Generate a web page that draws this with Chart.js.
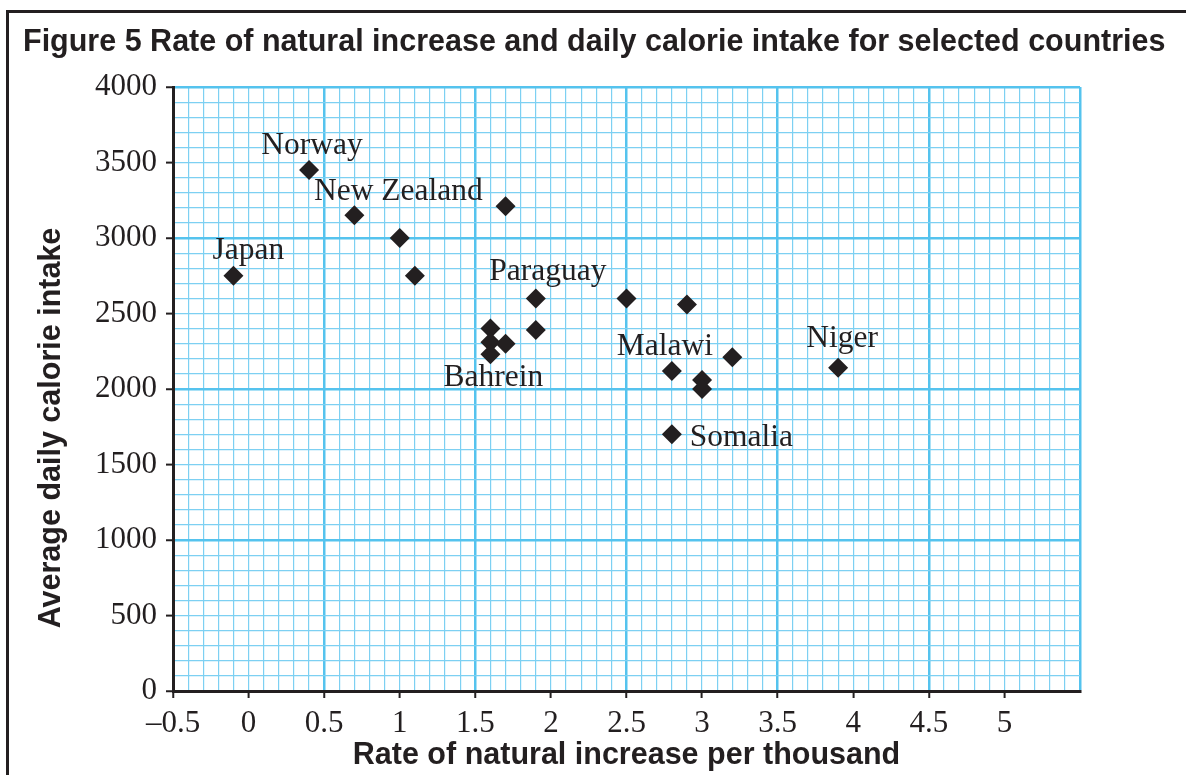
<!DOCTYPE html>
<html>
<head>
<meta charset="utf-8">
<script src="https://cdn.jsdelivr.net/npm/chart.js@4.4.1/dist/chart.umd.min.js"></script>
<style>
    html, body { margin: 0; padding: 0; background: #ffffff; }
    #wrap { width: 1186px; height: 775px; }
</style>
</head>
<body>
<div id="wrap"><canvas id="calorieChart"></canvas></div>
<script>
// values
const rateOfIncrease = [-0.1, 0.4, 0.7, 1.0, 1.1, 1.6, 1.6, 1.6, 1.7, 1.7, 1.9, 1.9, 2.5, 2.9, 2.8, 3.0, 3.0, 3.2, 2.8, 3.9];
const calorieIntake = [2750, 3450, 3150, 3000, 2750, 2400, 2310, 2230, 2300, 3210, 2600, 2390, 2600, 2560, 2120, 2060, 2000, 2210, 1700, 2140];

// country names and the point each one sits next to
const countryNames = ['Norway', 'New Zealand', 'Japan', 'Paraguay', 'Bahrein', 'Malawi', 'Somalia', 'Niger'];
const countryRate = [0.4, 0.7, -0.1, 1.9, 1.6, 2.8, 2.8, 3.9];
const countryCalories = [3450, 3150, 2750, 2600, 2230, 2120, 1700, 2140];

const xMin = -0.5, xMax = 5.5, xStep = 0.1;
const yMin = 0, yMax = 4000, yStep = 100;

const ink = '#231f20';
const gridThin = '#7dd0f2';
const gridThick = '#55c3ee';
const serif = '"Liberation Serif", "Times New Roman", serif';
const sans = '"Liberation Sans", Arial, sans-serif';

function isHalf(v) { return Math.abs(v * 2 - Math.round(v * 2)) < 1e-6; }
function xMajor(v) { return Math.round((v - xMin) * 10) % 10 === 0; }
function yMajor(v) { return Math.round(v) % 1000 === 0; }

// label offsets in pixels from their point
const labelPlace = {
    'Norway':      { dx: 3,  dy: -16, align: 'center' },
    'New Zealand': { dx: 44, dy: -15, align: 'center' },
    'Japan':       { dx: 15, dy: -17, align: 'center' },
    'Paraguay':    { dx: 12, dy: -18, align: 'center' },
    'Bahrein':     { dx: 3,  dy: 32,  align: 'center' },
    'Malawi':      { dx: -7, dy: -16, align: 'center' },
    'Somalia':     { dx: 18, dy: 12,  align: 'left' },
    'Niger':       { dx: 4,  dy: -21, align: 'center' }
};

const figureText = {
    id: 'figureText',
    beforeDraw(chart) {
        const ctx = chart.ctx;
        ctx.save();
        // frame round the figure
        ctx.strokeStyle = ink;
        ctx.lineWidth = 3;
        ctx.beginPath();
        ctx.moveTo(7.5, 775);
        ctx.lineTo(7.5, 11.5);
        ctx.lineTo(1186, 11.5);
        ctx.stroke();
        // title
        ctx.fillStyle = ink;
        ctx.font = 'bold 30.5px ' + sans;
        ctx.textAlign = 'left';
        ctx.textBaseline = 'alphabetic';
        ctx.fillText('Figure 5 Rate of natural increase and daily calorie intake for selected countries', 23, 51);
        // y axis title
        ctx.translate(52, 428);
        ctx.rotate(-Math.PI / 2);
        ctx.textAlign = 'center';
        ctx.textBaseline = 'middle';
        ctx.font = 'bold 30.5px ' + sans;
        ctx.fillText('Average daily calorie intake', 0, 0);
        ctx.restore();
    },
    afterDatasetsDraw(chart) {
        const ctx = chart.ctx;
        const xs = chart.scales.x, ys = chart.scales.y;
        ctx.save();
        ctx.fillStyle = ink;
        ctx.font = '31.5px ' + serif;
        ctx.textBaseline = 'alphabetic';
        countryNames.forEach((name, i) => {
            const p = labelPlace[name];
            ctx.textAlign = p.align;
            ctx.fillText(name, xs.getPixelForValue(countryRate[i]) + p.dx, ys.getPixelForValue(countryCalories[i]) + p.dy);
        });
        ctx.restore();
    }
};

const ctx = document.getElementById('calorieChart').getContext('2d');
const calorieChart = new Chart(ctx, {
    type: 'scatter',
    data: {
        datasets: [{
            label: 'Countries',
            data: rateOfIncrease.map((r, i) => ({ x: r, y: calorieIntake[i] })),
            pointStyle: 'rectRot',
            pointRadius: 10,
            pointHoverRadius: 10,
            backgroundColor: ink,
            borderColor: ink,
            borderWidth: 0
        }]
    },
    options: {
        responsive: true,
        maintainAspectRatio: false,
        animation: false,
        events: [],
        layout: { padding: { top: 87, right: 106, left: 0, bottom: 0 } },
        plugins: {
            legend: { display: false },
            title: { display: false },
            tooltip: { enabled: false }
        },
        scales: {
            x: {
                type: 'linear',
                min: xMin,
                max: xMax,
                afterFit: scale => { scale.height = 84; },
                border: { color: ink, width: 3 },
                grid: {
                    color: c => xMajor(c.tick.value) ? gridThick : gridThin,
                    lineWidth: c => xMajor(c.tick.value) ? 2.5 : 1.2,
                    tickColor: c => (isHalf(c.tick.value) && c.tick.value < 5.25) ? ink : 'rgba(0,0,0,0)',
                    tickWidth: 2,
                    tickLength: 7
                },
                ticks: {
                    stepSize: xStep,
                    autoSkip: false,
                    maxRotation: 0,
                    padding: 7,
                    color: ink,
                    font: { family: serif, size: 31 },
                    callback: v => {
                        if (!isHalf(v) || v > 5.25) return '';
                        const t = String(Number(Math.abs(v).toFixed(1)));
                        return v < 0 ? '\u2013' + t : t;
                    }
                },
                title: {
                    display: true,
                    text: 'Rate of natural increase per thousand',
                    color: ink,
                    font: { family: sans, size: 30.5, weight: 'bold' },
                    padding: { top: 0, bottom: 1 }
                }
            },
            y: {
                type: 'linear',
                min: yMin,
                max: yMax,
                afterFit: scale => { scale.width = 173; },
                border: { color: ink, width: 3 },
                grid: {
                    color: c => yMajor(c.tick.value) ? gridThick : gridThin,
                    lineWidth: c => yMajor(c.tick.value) ? 2.5 : 1.2,
                    tickColor: c => (Math.round(c.tick.value) % 500 === 0) ? ink : 'rgba(0,0,0,0)',
                    tickWidth: 2,
                    tickLength: 7
                },
                ticks: {
                    stepSize: yStep,
                    autoSkip: false,
                    padding: 9,
                    color: ink,
                    font: { family: serif, size: 31 },
                    callback: v => (Math.round(v) % 500 === 0) ? String(v) : ''
                }
            }
        }
    },
    plugins: [figureText]
});
</script>
</body>
</html>
